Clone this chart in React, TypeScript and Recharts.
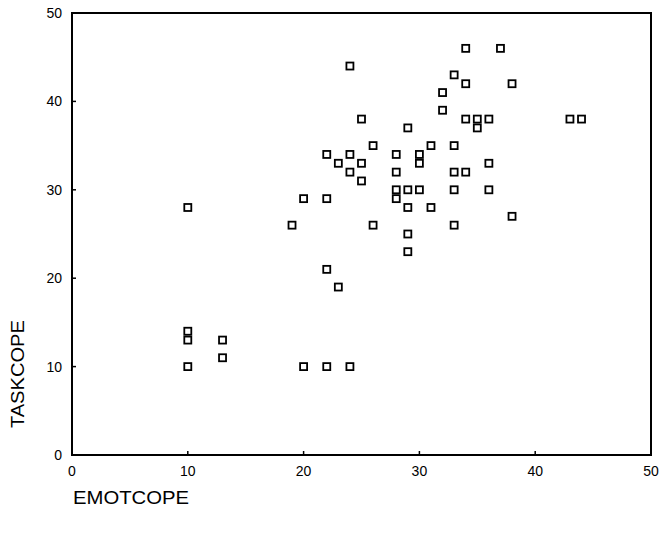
import { ScatterChart, Scatter, XAxis, YAxis, ReferenceArea } from 'recharts';

// EMOTCOPE (x) and TASKCOPE (y) for each respondent
const emotcope = [
  10, 10, 10, 10, 13, 13, 19, 20, 20, 22, 22, 22, 22, 23, 23, 24, 24, 24, 24,
  25, 25, 25, 26, 26, 28, 28, 28, 28, 29, 29, 29, 29, 29, 30, 30, 30, 31, 31,
  32, 32, 33, 33, 33, 33, 33, 34, 34, 34, 34, 35, 35, 36, 36, 36, 37, 38, 38,
  43, 44,
];
const taskcope = [
  28, 14, 13, 10, 13, 11, 26, 29, 10, 34, 29, 21, 10, 33, 19, 44, 34, 32, 10,
  38, 33, 31, 35, 26, 34, 32, 30, 29, 37, 30, 28, 25, 23, 34, 33, 30, 35, 28,
  41, 39, 43, 35, 32, 30, 26, 46, 42, 38, 32, 38, 37, 38, 33, 30, 46, 42, 27,
  38, 38,
];
const xTicks = [0, 10, 20, 30, 40, 50];
const yTicks = [0, 10, 20, 30, 40, 50];

const points = emotcope.map((x, i) => ({ x, y: taskcope[i] }));

const FONT = '"Liberation Sans", Arial, sans-serif';

// small open square, like the original SPSS marker
const SquareDot = (props: any) => {
  const { cx, cy } = props;
  if (cx == null || cy == null) return null;
  return <rect x={cx - 3.5} y={cy - 3.5} width={7} height={7} fill="#fff" stroke="#000" strokeWidth={1.8} />;
};

const XLabel = (props: any) => {
  const { x, y } = props.viewBox;
  return (
    <text x={x + 1} y={y + 49} fontFamily={FONT} fontSize={18} fill="#000" textLength={116} lengthAdjust="spacingAndGlyphs">
      EMOTCOPE
    </text>
  );
};

const YLabel = (props: any) => {
  const { x, y, height } = props.viewBox;
  const cx = x + 24;
  const cy = y + height * 0.817;
  return (
    <text
      x={cx}
      y={cy}
      transform={`rotate(-90 ${cx} ${cy})`}
      textAnchor="middle"
      fontFamily={FONT}
      fontSize={18}
      fill="#000"
      textLength={108}
      lengthAdjust="spacingAndGlyphs"
    >
      TASKCOPE
    </text>
  );
};

export default function App() {
  return (
    <div style={{ position: 'absolute', left: 0, top: 0, width: 660, height: 537, background: '#fff' }}>
      <ScatterChart width={660} height={537} margin={{ top: 13, right: 9, bottom: 52, left: 0 }}>
        <XAxis
          type="number"
          dataKey="x"
          domain={[0, 50]}
          ticks={xTicks}
          height={30}
          tickSize={-4}
          tickMargin={15}
          axisLine={{ stroke: '#000', strokeWidth: 2 }}
          tickLine={{ stroke: '#000', strokeWidth: 1.5 }}
          tick={{ fill: '#000', fontSize: 14, fontFamily: FONT }}
          label={<XLabel />}
        />
        <YAxis
          type="number"
          dataKey="y"
          domain={[0, 50]}
          ticks={yTicks}
          width={72}
          tickSize={-4}
          tickMargin={14}
          axisLine={{ stroke: '#000', strokeWidth: 2 }}
          tickLine={{ stroke: '#000', strokeWidth: 1.5 }}
          tick={{ fill: '#000', fontSize: 14, fontFamily: FONT }}
          label={<YLabel />}
        />
        <ReferenceArea x1={0} x2={50} y1={0} y2={50} fill="none" stroke="#000" strokeWidth={2} ifOverflow="visible" />
        <Scatter data={points} shape={SquareDot} isAnimationActive={false} />
      </ScatterChart>
    </div>
  );
}
